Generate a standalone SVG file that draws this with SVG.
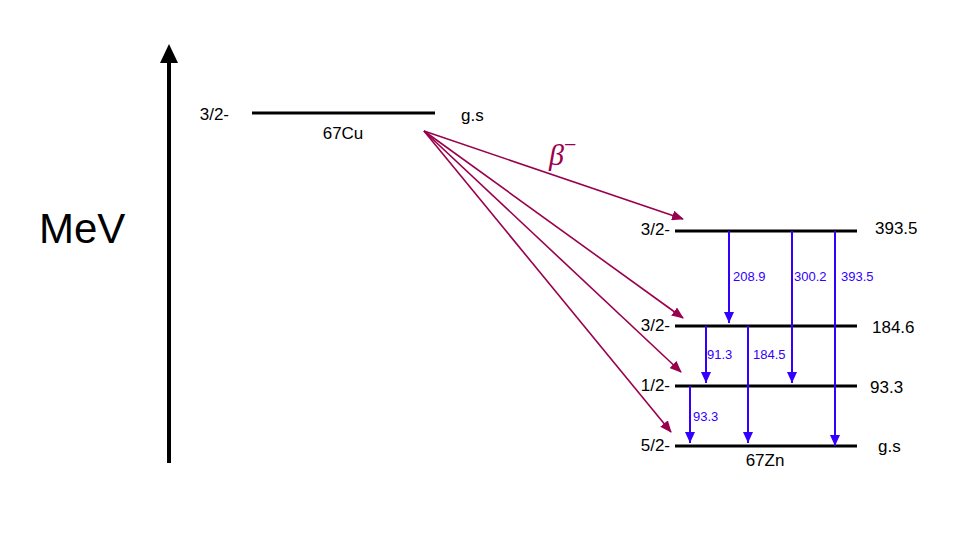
<svg xmlns="http://www.w3.org/2000/svg" width="976" height="544" viewBox="0 0 976 544">
<style>
text{font-family:"Liberation Sans",Arial,sans-serif;}
.lvl{stroke:#000;stroke-width:3;}
.lab{font-size:17px;fill:#000;}
.beta{stroke:#99004d;stroke-width:1.6;fill:none;}
.gam{stroke:#3300ff;stroke-width:2;fill:none;}
.gl{font-size:13px;fill:#3300ff;}
</style>
<defs>
<marker id="mb" markerWidth="12" markerHeight="10" refX="11" refY="5" orient="auto" markerUnits="userSpaceOnUse">
<path d="M0,0 L12,5 L0,10 Z" fill="#99004d"/>
</marker>
<marker id="mg" markerWidth="10" markerHeight="12" refX="5" refY="11" orient="0" markerUnits="userSpaceOnUse">
<path d="M0,0 L10,0 L5,11 Z" fill="#3300ff"/>
</marker>
</defs>
<rect width="976" height="544" fill="#fff"/>
<g id="axis">
<line x1="169" y1="463" x2="169" y2="60" stroke="#000" stroke-width="4"/>
<path d="M160,63 L169,44 L178,63 Z" fill="#000"/>
<text x="39" y="243" font-size="42" fill="#000">MeV</text>
</g>
<g id="cu67">
<line class="lvl" x1="252" y1="113" x2="435" y2="113"/>
<text class="lab" x="229" y="120" text-anchor="end">3/2-</text>
<text class="lab" x="461" y="121">g.s</text>
<text class="lab" x="343" y="139" text-anchor="middle">67Cu</text>
</g>
<g id="zn393">
<line class="lvl" x1="675" y1="231" x2="857" y2="231"/>
<text class="lab" x="670" y="235" text-anchor="end">3/2-</text>
<text class="lab" x="875" y="234">393.5</text>
</g>
<g id="zn184">
<line class="lvl" x1="675" y1="326" x2="857" y2="326"/>
<text class="lab" x="670" y="331" text-anchor="end">3/2-</text>
<text class="lab" x="872" y="333">184.6</text>
</g>
<g id="zn93">
<line class="lvl" x1="675" y1="386" x2="857" y2="386"/>
<text class="lab" x="670" y="391" text-anchor="end">1/2-</text>
<text class="lab" x="870" y="393">93.3</text>
</g>
<g id="zn0">
<line class="lvl" x1="675" y1="446" x2="857" y2="446"/>
<text class="lab" x="670" y="451" text-anchor="end">5/2-</text>
<text class="lab" x="878" y="452">g.s</text>
<text class="lab" x="765" y="466" text-anchor="middle">67Zn</text>
</g>
<g id="connectors">
<line class="beta" x1="424" y1="131" x2="683" y2="219" marker-end="url(#mb)"/>
<line class="beta" x1="424" y1="131" x2="683" y2="318" marker-end="url(#mb)"/>
<line class="beta" x1="424" y1="131" x2="681" y2="372" marker-end="url(#mb)"/>
<line class="beta" x1="424" y1="131" x2="671" y2="432" marker-end="url(#mb)"/>
<line class="gam" x1="729" y1="231" x2="729" y2="323" marker-end="url(#mg)"/>
<line class="gam" x1="792" y1="231" x2="792" y2="383" marker-end="url(#mg)"/>
<line class="gam" x1="835" y1="231" x2="835" y2="446" marker-end="url(#mg)"/>
<line class="gam" x1="706" y1="326" x2="706" y2="383" marker-end="url(#mg)"/>
<line class="gam" x1="748" y1="326" x2="748" y2="443" marker-end="url(#mg)"/>
<line class="gam" x1="690" y1="386" x2="690" y2="443" marker-end="url(#mg)"/>
<text class="gl" x="733" y="281">208.9</text>
<text class="gl" x="794" y="281">300.2</text>
<text class="gl" x="841" y="281">393.5</text>
<text class="gl" x="707" y="359">91.3</text>
<text class="gl" x="753" y="359">184.5</text>
<text class="gl" x="693" y="421">93.3</text>
<text x="549" y="165" font-size="30" font-style="italic" fill="#99004d" style="font-family:'Liberation Serif',serif">β<tspan font-size="22" dy="-13" font-style="normal">−</tspan></text>
</g>
</svg>
